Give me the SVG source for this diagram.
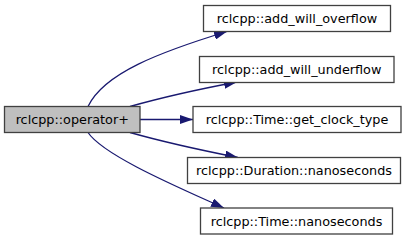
<svg xmlns="http://www.w3.org/2000/svg" width="412" height="240" viewBox="0 0 412 240">
<style>
  .node rect { fill: #ffffff; stroke: #404040; stroke-width: 1.3; }
  #n0 rect { fill: #bfbfbf; }
  .node text { font-family: "DejaVu Sans", "Liberation Sans", sans-serif; font-size: 12.8px; fill: #000000; text-anchor: middle; }
  .edge { fill: none; stroke: #191970; stroke-width: 1.3; marker-end: url(#arrow); }
</style>
<defs>
  <marker id="arrow" markerUnits="userSpaceOnUse" viewBox="0 0 13 9" markerWidth="13" markerHeight="9" refX="13" refY="4.5" orient="auto">
    <path d="M0,0 L13,4.5 L0,9 z" fill="#191970"/>
  </marker>
</defs>
<g id="edges">
  <path class="edge" d="M88,106.5 C104,73 160,52 227,31.5"/>
  <path class="edge" d="M130,106.5 C160,98 200,89 237,82"/>
  <path class="edge" d="M140,119.5 L193,119.5"/>
  <path class="edge" d="M130,132.5 C160,141 200,150 238,157.5"/>
  <path class="edge" d="M88,132.5 C104,156 180,188 224,208"/>
</g>
<g id="n0" class="node">
  <rect x="4.5" y="106.5" width="135.5" height="26"/>
  <text x="72.25" y="124">rclcpp::operator+</text>
</g>
<g id="n1" class="node">
  <rect x="203.5" y="5.5" width="187" height="26"/>
  <text x="297" y="23">rclcpp::add_will_overflow</text>
</g>
<g id="n2" class="node">
  <rect x="199.5" y="56.5" width="194.5" height="26"/>
  <text x="296.75" y="74">rclcpp::add_will_underflow</text>
</g>
<g id="n3" class="node">
  <rect x="193" y="106.5" width="208" height="26"/>
  <text x="297" y="124">rclcpp::Time::get_clock_type</text>
</g>
<g id="n4" class="node">
  <rect x="187.5" y="157.5" width="213" height="26"/>
  <text x="294" y="175">rclcpp::Duration::nanoseconds</text>
</g>
<g id="n5" class="node">
  <rect x="200.5" y="208" width="192" height="26"/>
  <text x="296.5" y="225.5">rclcpp::Time::nanoseconds</text>
</g>
</svg>
